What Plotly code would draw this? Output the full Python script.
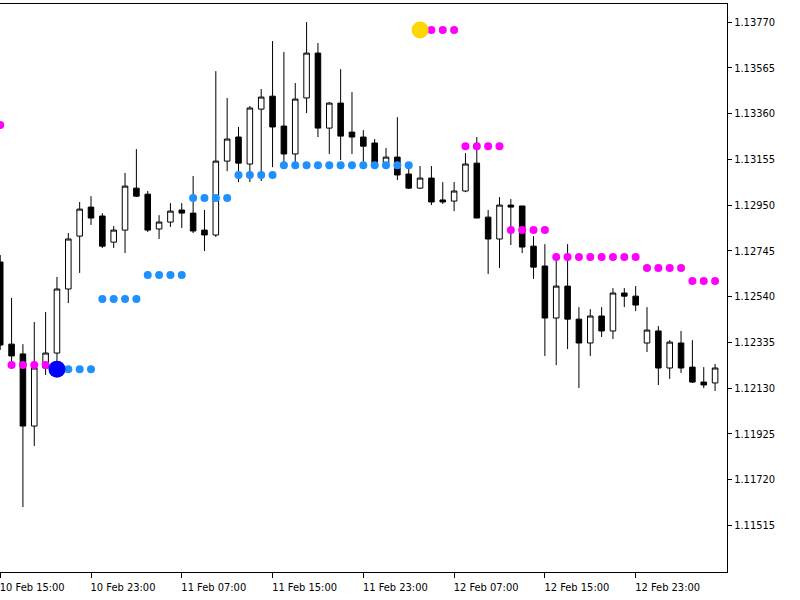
import plotly.graph_objects as go

bars = list(range(64))
opens = [1.12695,1.12327,1.12283,1.11960,1.12220,1.12287,1.12574,1.12811,1.12941,1.12901,
         1.12784,1.12838,1.13026,1.12999,1.12843,1.12874,1.12928,1.12914,1.12838,1.12816,
         1.13147,1.13255,1.13134,1.13380,1.13438,1.13304,1.13179,1.13430,1.13631,1.13295,
         1.13407,1.13277,1.13255,1.13228,1.13138,1.13165,1.13089,1.13026,1.13071,1.12973,
         1.12968,1.13013,1.13138,1.12896,1.12798,1.12950,1.12946,1.12766,1.12677,1.12444,
         1.12587,1.12439,1.12332,1.12453,1.12386,1.12556,1.12542,1.12332,1.12386,1.12220,
         1.12332,1.12224,1.12157,1.12153]
highs = [1.12726,1.12534,1.12327,1.12426,1.12471,1.12628,1.12825,1.12964,1.12990,1.12914,
         1.12856,1.13094,1.13201,1.13013,1.12905,1.12959,1.12959,1.13080,1.12928,1.13550,
         1.13430,1.13300,1.13394,1.13470,1.13685,1.13636,1.13497,1.13770,1.13676,1.13412,
         1.13559,1.13456,1.13286,1.13246,1.13206,1.13344,1.13116,1.13125,1.13125,1.13053,
         1.13053,1.13183,1.13255,1.12928,1.12986,1.12977,1.12946,1.12811,1.12775,1.12735,
         1.12775,1.12493,1.12484,1.12493,1.12578,1.12578,1.12587,1.12493,1.12408,1.12345,
         1.12386,1.12345,1.12224,1.12238]
lows = [1.12301,1.12233,1.11597,1.11870,1.12189,1.12242,1.12511,1.12646,1.12861,1.12758,
        1.12758,1.12735,1.12986,1.12829,1.12798,1.12852,1.12847,1.12825,1.12744,1.12807,
        1.13102,1.13053,1.13053,1.13058,1.13120,1.13138,1.13138,1.13362,1.13255,1.13179,
        1.13152,1.13179,1.13125,1.13125,1.13125,1.13062,1.13022,1.13022,1.12950,1.12955,
        1.12923,1.13008,1.12892,1.12641,1.12668,1.12771,1.12735,1.12619,1.12274,1.12233,
        1.12305,1.12130,1.12274,1.12359,1.12350,1.12493,1.12475,1.12292,1.12144,1.12171,
        1.12198,1.12153,1.12130,1.12117]
closes = [1.12323,1.12274,1.11960,1.12220,1.12287,1.12574,1.12798,1.12932,1.12892,1.12766,
          1.12838,1.13035,1.12990,1.12838,1.12874,1.12923,1.12914,1.12834,1.12816,1.13147,
          1.13246,1.13138,1.13385,1.13434,1.13300,1.13179,1.13425,1.13631,1.13295,1.13407,
          1.13259,1.13255,1.13214,1.13138,1.13165,1.13085,1.13026,1.13071,1.12964,1.12964,
          1.13013,1.13134,1.12892,1.12798,1.12950,1.12941,1.12762,1.12672,1.12444,1.12587,
          1.12439,1.12332,1.12453,1.12386,1.12556,1.12542,1.12502,1.12390,1.12220,1.12336,
          1.12220,1.12157,1.12144,1.12220]

magenta_x = [0,1,2,3,4,38,39,40,41,42,43,44,45,46,47,48,49,50,51,52,53,54,55,56,57,58,59,60,61,62,63]
magenta_y = [1.13309,1.12233,1.12233,1.12233,1.12233,1.13734,1.13734,1.13734,
             1.13214,1.13214,1.13214,1.13214,1.12838,1.12838,1.12838,1.12838,
             1.12717,1.12717,1.12717,1.12717,1.12717,1.12717,1.12717,1.12717,
             1.12668,1.12668,1.12668,1.12668,1.12610,1.12610,1.12610]
blue_x = [6,7,8,9,10,11,12,13,14,15,16,17,18,19,20,21,22,23,24,
          25,26,27,28,29,30,31,32,33,34,35,36]
blue_y = [1.12215,1.12215,1.12215,1.12529,1.12529,1.12529,1.12529,
          1.12637,1.12637,1.12637,1.12637,1.12982,1.12982,1.12982,1.12982,
          1.13085,1.13085,1.13085,1.13085] + [1.13129]*12
buy_signal_x, buy_signal_y = [5], [1.12215]
sell_signal_x, sell_signal_y = [37], [1.13734]

xtick_vals = [0, 8, 16, 24, 32, 40, 48, 56]
xtick_text = ["10 Feb 15:00", "10 Feb 23:00", "11 Feb 07:00", "11 Feb 15:00",
              "11 Feb 23:00", "12 Feb 07:00", "12 Feb 15:00", "12 Feb 23:00"]
ytick_vals = [1.13770,1.13565,1.13360,1.13155,1.12950,1.12745,1.12540,1.12335,
              1.12130,1.11925,1.11720,1.11515]

fig = go.Figure()
fig.add_trace(go.Candlestick(
    x=bars, open=opens, high=highs, low=lows, close=closes,
    increasing=dict(line=dict(color="black", width=1), fillcolor="white"),
    decreasing=dict(line=dict(color="black", width=1), fillcolor="black"),
    whiskerwidth=0, showlegend=False, hoverinfo="skip"))
fig.add_trace(go.Scatter(x=magenta_x, y=magenta_y, mode="markers",
    marker=dict(color="#ff00ff", size=8), showlegend=False))
fig.add_trace(go.Scatter(x=blue_x, y=blue_y, mode="markers",
    marker=dict(color="#1e90ff", size=8), showlegend=False))
fig.add_trace(go.Scatter(x=buy_signal_x, y=buy_signal_y, mode="markers",
    marker=dict(color="#0000ff", size=17), showlegend=False))
fig.add_trace(go.Scatter(x=sell_signal_x, y=sell_signal_y, mode="markers",
    marker=dict(color="#ffd700", size=17), showlegend=False))

fig.update_layout(
    width=800, height=600, margin=dict(l=0, r=73, t=4, b=28),
    paper_bgcolor="white", plot_bgcolor="white",
    font=dict(family="DejaVu Sans Condensed, DejaVu Sans", size=11, color="black"),
    xaxis=dict(range=[-0.02, 64.05], tickvals=xtick_vals, ticktext=xtick_text,
               ticks="outside", ticklen=5, tickcolor="black", showgrid=False,
               showline=True, mirror=True, linecolor="black", linewidth=1,
               ticklabelshift=32, ticklabeloverflow="allow", automargin=False,
               rangeslider=dict(visible=False), zeroline=False),
    yaxis=dict(range=[1.11306, 1.13851], side="right", tickvals=ytick_vals,
               tickformat=".5f", ticks="outside", ticklen=4, tickcolor="black",
               showgrid=False, showline=True, linecolor="black", linewidth=1,
               automargin=False, zeroline=False),
)
fig.write_html("out.html", config={"displayModeBar": False},
               post_script="document.body.style.margin='0';document.body.style.overflow='hidden';")
